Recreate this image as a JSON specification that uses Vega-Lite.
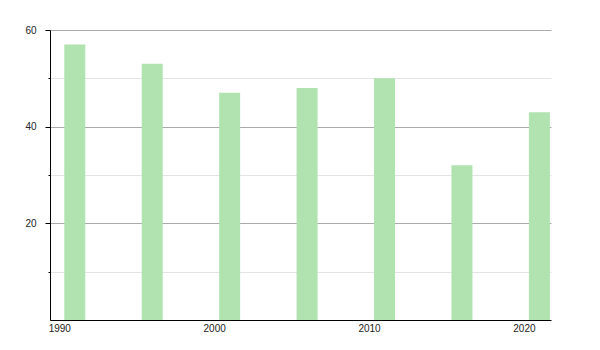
{
  "$schema": "https://vega.github.io/schema/vega-lite/v6.json",
  "width": 501,
  "height": 290,
  "autosize": {"type": "none"},
  "padding": {"left": 50, "top": 30, "right": 49, "bottom": 30},
  "background": "white",
  "config": {
    "view": {"stroke": null},
    "axis": {"labelFont": "Liberation Sans", "labelFontSize": 10, "labelColor": "#222"}
  },
  "data": {
    "values": [
      {"year": 1991, "value": 57},
      {"year": 1996, "value": 53},
      {"year": 2001, "value": 47},
      {"year": 2006, "value": 48},
      {"year": 2011, "value": 50},
      {"year": 2016, "value": 32},
      {"year": 2021, "value": 43}
    ]
  },
  "layer": [
    {
      "mark": {"type": "bar", "width": 21, "color": "#b0e3b0", "opacity": 0},
      "encoding": {
        "x": {"field": "year", "type": "quantitative", "scale": {"domain": [1989.4, 2021.75], "nice": false, "zero": false, "padding": 0},
          "axis": {"values": [1990, 2000, 2010, 2020], "format": "d", "ticks": false, "grid": false, "domainColor": "#000", "labelPadding": 3, "title": null}},
        "y": {"field": "value", "type": "quantitative", "scale": {"domain": [0, 60], "nice": false},
          "axis": {"orient": "left", "values": [10, 30, 50], "labels": false, "tickSize": 2, "tickColor": "#000", "grid": true, "gridColor": "#e4e4e4", "domain": false, "title": null}}
      }
    },
    {
      "mark": {"type": "bar", "width": 21, "color": "#b0e3b0"},
      "encoding": {
        "x": {"field": "year", "type": "quantitative", "scale": {"domain": [1989.4, 2021.75], "nice": false, "zero": false, "padding": 0}},
        "y": {"field": "value", "type": "quantitative", "scale": {"domain": [0, 60], "nice": false},
          "axis": {"orient": "left", "values": [20, 40, 60], "tickSize": 5, "tickColor": "#000", "domainColor": "#000", "grid": true, "gridColor": "#aaaaaa", "labelPadding": 9, "title": null}}
      }
    }
  ],
  "resolve": {"axis": {"y": "independent"}}
}
